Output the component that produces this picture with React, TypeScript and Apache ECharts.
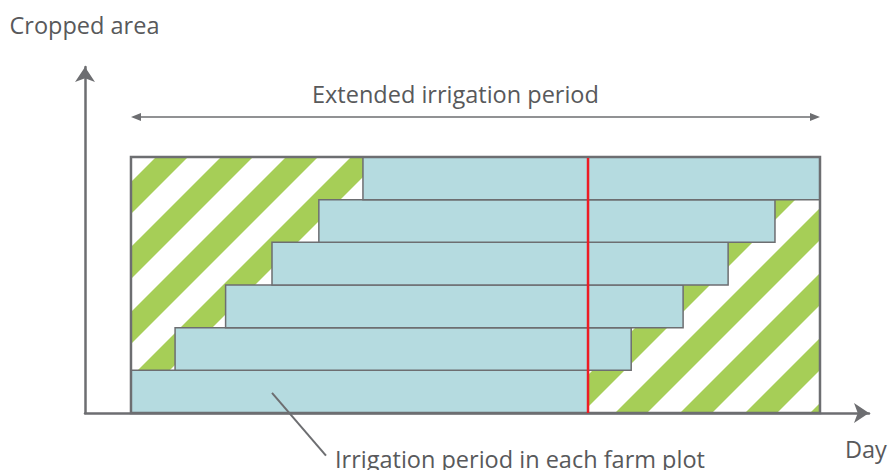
import React, { useEffect, useRef } from "react";
import * as echarts from "echarts";

// ---- data (days on x, farm plots stacked on y) ----
const plotRows = [0, 1, 2, 3, 4, 5]; // bottom to top
const plotStartDay = [0, 9.6, 20.6, 30.7, 40.9, 50.5];
const plotEndDay = [99.5, 108.9, 120.2, 130, 140.2, 150];
const extendedPeriod = [0, 150];
const cutoffDay = 99.5;
const rowCount = 6;
const arrowLevel = 6.94; // y position of the extended-period arrow
const leaderFrom = [30.7, 0.47];
const leaderTo = [42.45, -1.0];

const yAxisTitle = "Cropped area";
const xAxisTitle = "Day";
const extendedLabel = "Extended irrigation period";
const plotLabel = "Irrigation period in each farm plot";

const GRAY = "#6d6e71";
const TEXT = "#58595b";
const BLUE = "#b5dbe0";
const GREEN = "#a6ce57";
const RED = "#ed1c24";
const FONT = "Open Sans";
const FS = 23.5;

function clipHalf(poly: number[][], f: (p: number[]) => number) {
  const out: number[][] = [];
  for (let i = 0; i < poly.length; i++) {
    const a = poly[i];
    const b = poly[(i + 1) % poly.length];
    const fa = f(a);
    const fb = f(b);
    if (fa >= 0) out.push(a);
    if (fa >= 0 !== fb >= 0) {
      const t = fa / (fa - fb);
      out.push([a[0] + t * (b[0] - a[0]), a[1] + t * (b[1] - a[1])]);
    }
  }
  return out;
}

export default function App() {
  const ref = useRef<HTMLDivElement>(null);
  useEffect(() => {
    if (!ref.current) return;
    const chart = echarts.init(ref.current, undefined, { renderer: "svg" });
    const barData = plotRows.map((r, i) => [plotStartDay[i], plotEndDay[i], r]);

    const option: any = {
      animation: false,
      textStyle: { fontFamily: FONT },
      grid: { left: 85, right: 22, top: 67, bottom: 57 },
      xAxis: {
        type: "value",
        min: -10.01,
        max: 160.67,
        axisLine: {
          show: true,
          onZero: false,
          symbol: ["none", "arrow"],
          symbolSize: [15, 15],
          lineStyle: { color: GRAY, width: 2.5 },
        },
        axisTick: { show: false },
        axisLabel: { show: false },
        splitLine: { show: false },
      },
      yAxis: {
        type: "value",
        min: 0,
        max: 8.109,
        axisLine: {
          show: true,
          onZero: false,
          symbol: ["none", "arrow"],
          symbolSize: [15, 15],
          lineStyle: { color: GRAY, width: 2.5 },
        },
        axisTick: { show: false },
        axisLabel: { show: false },
        splitLine: { show: false },
      },
      graphic: [
        {
          type: "text",
          x: 84.5,
          y: 25,
          style: { text: yAxisTitle, fill: TEXT, font: `${FS}px "${FONT}"`, align: "center", verticalAlign: "middle" },
        },
        {
          type: "text",
          x: 312,
          y: 94,
          style: { text: extendedLabel, fill: TEXT, font: `${FS}px "${FONT}"`, align: "left", verticalAlign: "middle" },
        },
        {
          type: "text",
          x: 335,
          y: 459,
          style: { text: plotLabel, fill: TEXT, font: `${FS}px "${FONT}"`, align: "left", verticalAlign: "middle" },
        },
        {
          type: "text",
          x: 845,
          y: 449,
          style: { text: xAxisTitle, fill: TEXT, font: `${FS}px "${FONT}"`, align: "left", verticalAlign: "middle" },
        },
      ],
      series: [
        {
          type: "custom",
          name: "stripes",
          z: 1,
          data: [[extendedPeriod[0], extendedPeriod[1], 0, rowCount]],
          renderItem: (params: any, api: any) => {
            const tl = api.coord([api.value(0), api.value(3)]);
            const br = api.coord([api.value(1), api.value(2)]);
            const rect = [
              [tl[0], tl[1]],
              [br[0], tl[1]],
              [br[0], br[1]],
              [tl[0], br[1]],
            ];
            const period = 65;
            const width = 32;
            const offset = 53;
            const sMin = tl[0] + tl[1];
            const sMax = br[0] + br[1];
            const children: any[] = [];
            const kStart = Math.floor((sMin - offset) / period) - 1;
            for (let k = kStart; offset + k * period < sMax; k++) {
              const c1 = offset + k * period;
              const c2 = c1 + width;
              let poly = clipHalf(rect, (p) => p[0] + p[1] - c1);
              poly = clipHalf(poly, (p) => c2 - (p[0] + p[1]));
              if (poly.length >= 3) {
                children.push({ type: "polygon", shape: { points: poly }, style: { fill: GREEN } });
              }
            }
            return { type: "group", children };
          },
        },
        {
          type: "custom",
          name: "plots",
          z: 2,
          data: barData,
          renderItem: (params: any, api: any) => {
            const p0 = api.coord([api.value(0), api.value(2) + 1]);
            const p1 = api.coord([api.value(1), api.value(2)]);
            return {
              type: "rect",
              shape: { x: p0[0], y: p0[1], width: p1[0] - p0[0], height: p1[1] - p0[1] },
              style: { fill: BLUE, stroke: GRAY, lineWidth: 1.5 },
            };
          },
        },
        {
          type: "custom",
          name: "frame",
          z: 3,
          data: [[extendedPeriod[0], extendedPeriod[1], 0, rowCount]],
          renderItem: (params: any, api: any) => {
            const tl = api.coord([api.value(0), api.value(3)]);
            const br = api.coord([api.value(1), api.value(2)]);
            return {
              type: "rect",
              shape: { x: tl[0], y: tl[1], width: br[0] - tl[0], height: br[1] - tl[1] },
              style: { fill: "none", stroke: GRAY, lineWidth: 2.5 },
            };
          },
        },
        {
          type: "custom",
          name: "cutoff",
          z: 4,
          data: [[cutoffDay, 0, rowCount]],
          renderItem: (params: any, api: any) => {
            const a = api.coord([api.value(0), api.value(1)]);
            const b = api.coord([api.value(0), api.value(2)]);
            return {
              type: "line",
              shape: { x1: a[0], y1: a[1], x2: b[0], y2: b[1] + 1 },
              style: { stroke: RED, lineWidth: 2.5 },
            };
          },
        },
        {
          type: "custom",
          name: "extended",
          z: 4,
          data: [[extendedPeriod[0], extendedPeriod[1], arrowLevel]],
          renderItem: (params: any, api: any) => {
            const a = api.coord([api.value(0), api.value(2)]);
            const b = api.coord([api.value(1), api.value(2)]);
            const len = 10;
            const hw = 4;
            return {
              type: "group",
              children: [
                {
                  type: "line",
                  shape: { x1: a[0] + len - 1, y1: a[1], x2: b[0] - len + 1, y2: b[1] },
                  style: { stroke: GRAY, lineWidth: 1.5 },
                },
                {
                  type: "polygon",
                  shape: { points: [[a[0], a[1]], [a[0] + len, a[1] - hw], [a[0] + len, a[1] + hw]] },
                  style: { fill: GRAY },
                },
                {
                  type: "polygon",
                  shape: { points: [[b[0], b[1]], [b[0] - len, b[1] - hw], [b[0] - len, b[1] + hw]] },
                  style: { fill: GRAY },
                },
              ],
            };
          },
        },
        {
          type: "custom",
          name: "leader",
          z: 4,
          clip: false,
          data: [[leaderFrom[0], leaderFrom[1], leaderTo[0], leaderTo[1]]],
          renderItem: (params: any, api: any) => {
            const a = api.coord([api.value(0), api.value(1)]);
            const b = api.coord([api.value(2), api.value(3)]);
            return {
              type: "line",
              shape: { x1: a[0], y1: a[1], x2: b[0], y2: b[1] },
              style: { stroke: GRAY, lineWidth: 2 },
            };
          },
        },
      ],
    };
    chart.setOption(option);
    return () => chart.dispose();
  }, []);

  return (
    <div
      ref={ref}
      style={{ position: "fixed", left: 0, top: 0, width: 891, height: 470, background: "#fff" }}
    />
  );
}
